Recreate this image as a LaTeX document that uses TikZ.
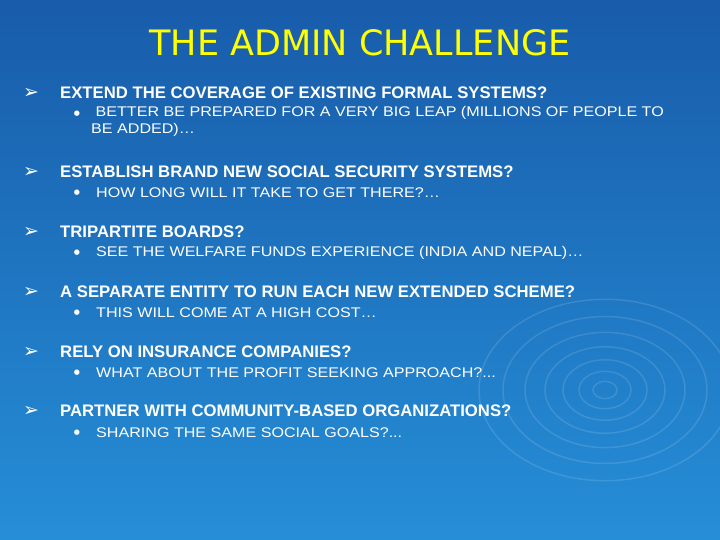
\documentclass[tikz,border=0pt]{standalone}
\usepackage{fontspec}
\setmainfont{Liberation Sans}
\newfontfamily\dejavu{DejaVu Sans}
\newfontfamily\titlefont{DejaVu Sans}
\newfontfamily\subfont[FakeStretch=1.15]{Liberation Sans}
\begin{document}
\begin{tikzpicture}[x=1pt,y=-1pt,
  mainitem/.style={anchor=west,text=white,font=\fontsize{16.7}{19}\selectfont\bfseries,inner sep=0},
  subitem/.style={anchor=west,text=white,font=\subfont\fontsize{14}{17}\selectfont,inner sep=0,align=left},
  arrowb/.style={anchor=center,text=white,font=\dejavu\fontsize{19}{21}\selectfont,inner sep=0},
  dotb/.style={anchor=center,text=white,font=\dejavu\fontsize{7}{8}\selectfont,inner sep=0},
  ripple/.style={draw=white,opacity=0.12,line width=1.5pt}]
\shade[top color={rgb,255:red,24;green,92;blue,170},bottom color={rgb,255:red,38;green,142;blue,215}] (0,0) rectangle (720,540);
\useasboundingbox (0,0) rectangle (720,540);
\foreach \r in {12,26,42,60,80,102,126}{\draw[ripple] (605,390) ellipse ({\r} and {\r*0.72});}
\node[text={rgb,255:red,255;green,255;blue,0},font=\titlefont\fontsize{35}{40}\selectfont] (title) at (360,43) {THE ADMIN CHALLENGE};
\foreach \y/\t [count=\i] in {93/{EXTEND THE COVERAGE OF EXISTING FORMAL SYSTEMS?},172/{ESTABLISH BRAND NEW SOCIAL SECURITY SYSTEMS?},232/{TRIPARTITE BOARDS?},292/{A SEPARATE ENTITY TO RUN EACH NEW EXTENDED SCHEME?},352/{RELY ON INSURANCE COMPANIES?},411/{PARTNER WITH COMMUNITY-BASED ORGANIZATIONS?}}{
  \node[arrowb] (a\i) at (31,\y) {➢};
  \node[mainitem] (m\i) at (60,\y) {\t};
}
\node[dotb] (d1) at (77,114) {●};
\node[subitem,anchor=north west] (s1) at (91,106) {\ BETTER BE PREPARED FOR A VERY BIG LEAP (MILLIONS OF PEOPLE TO\\BE ADDED)…};
\foreach \y/\t [count=\i from 2] in {193/{HOW LONG WILL IT TAKE TO GET THERE?…},253/{SEE THE WELFARE FUNDS EXPERIENCE (INDIA AND NEPAL)…},313/{THIS WILL COME AT A HIGH COST…},373/{WHAT ABOUT THE PROFIT SEEKING APPROACH?.{}.{}.},433/{SHARING THE SAME SOCIAL GOALS?.{}.{}.}}{
  \node[dotb] (d\i) at (77,\y) {●};
  \node[subitem] (s\i) at (96,\y) {\t};
}
\end{tikzpicture}
\end{document}
